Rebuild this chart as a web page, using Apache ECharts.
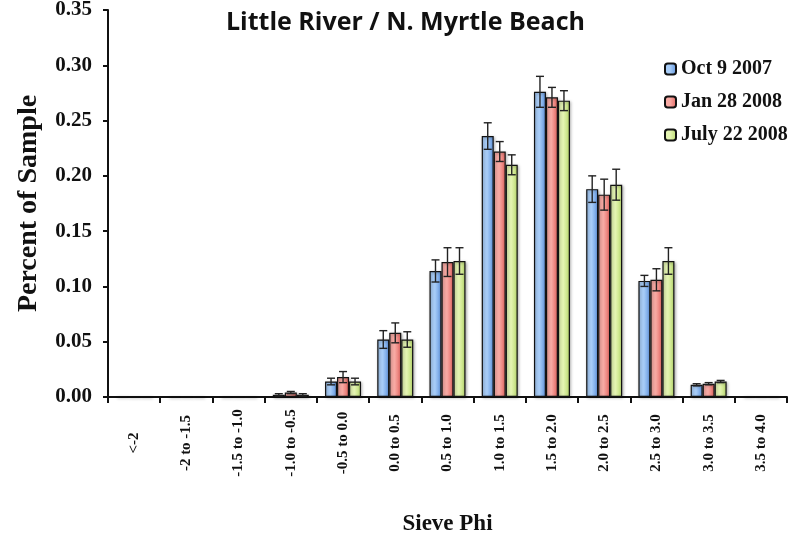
<!DOCTYPE html>
<html><head><meta charset="utf-8">
<script src="https://cdn.jsdelivr.net/npm/echarts@6/dist/echarts.min.js"></script>
<style>html,body{margin:0;padding:0;background:#fff}#c{width:803px;height:535px}</style>
</head><body><div id="c"></div>
<script>
const categories = ["<-2","-2 to -1.5","-1.5 to -1.0","-1.0 to -0.5","-0.5 to 0.0","0.0 to 0.5","0.5 to 1.0","1.0 to 1.5","1.5 to 2.0","2.0 to 2.5","2.5 to 3.0","3.0 to 3.5","3.5 to 4.0"];
const seriesNames = ["Oct 9 2007","Jan 28 2008","July 22 2008"];
const oct2007 = [0.0005,0.0003,0.0003,0.002,0.014,0.052,0.114,0.236,0.276,0.188,0.105,0.011,0.0005];
const jan2008 = [0.0003,0.0003,0.0003,0.004,0.018,0.058,0.122,0.222,0.271,0.183,0.106,0.012,0.0003];
const jul2008 = [0.0003,0.0003,0.0003,0.002,0.014,0.052,0.123,0.210,0.268,0.192,0.123,0.014,0.0003];
const octErr = [0,0,0,0.001,0.003,0.008,0.010,0.012,0.014,0.012,0.005,0.001,0];
const janErr = [0,0,0,0.001,0.005,0.009,0.013,0.009,0.009,0.014,0.010,0.001,0];
const julErr = [0,0,0,0.001,0.003,0.007,0.012,0.009,0.009,0.014,0.012,0.001,0];
const yTicks = [0,0.05,0.10,0.15,0.20,0.25,0.30,0.35];

const values = [oct2007, jan2008, jul2008];
const errs = [octErr, janErr, julErr];
const grads = [["#a8cdf8","#5e93dd"],["#f8aaa4","#e2635e"],["#e4f4b2","#b8d96c"]];
const BW = 12;
const offsets = [-BW, 0, BW];
const serif = "'Liberation Serif','Times New Roman',serif";

function grad(c){return new echarts.graphic.LinearGradient(0,0,1,0,[{offset:0,color:c[0]},{offset:0.45,color:c[0]},{offset:1,color:c[1]}]);}

const series = [];
values.forEach((vals,i)=>{
  series.push({
    name: seriesNames[i], type:'bar', data: vals, barWidth: BW, barGap:'0%', barCategoryGap:'30%',
    itemStyle:{color:grad(grads[i]), borderColor:'#111', borderWidth:1.2, shadowColor:'rgba(0,0,0,0.35)', shadowBlur:3, shadowOffsetX:1, shadowOffsetY:1},
    emphasis:{disabled:true}
  });
});
values.forEach((vals,i)=>{
  series.push({
    type:'custom', z:10, silent:true,
    data: vals.map((v,k)=>[k, v, errs[i][k]]),
    encode:{x:0,y:1},
    renderItem:(params, api)=>{
      const k=api.value(0), v=api.value(1), e=api.value(2);
      if(!e) return null;
      const hi=api.coord([k, v+e]), lo=api.coord([k, v-e]);
      const cx=hi[0]+offsets[i];
      const st={stroke:'#222', lineWidth:1.4};
      return {type:'group', children:[
        {type:'line', shape:{x1:cx,y1:hi[1],x2:cx,y2:lo[1]}, style:st},
        {type:'line', shape:{x1:cx-4,y1:hi[1],x2:cx+4,y2:hi[1]}, style:st},
        {type:'line', shape:{x1:cx-4,y1:lo[1],x2:cx+4,y2:lo[1]}, style:st}
      ]};
    }
  });
});

const chart = echarts.init(document.getElementById('c'));
chart.setOption({
  animation:false,
  backgroundColor:'#fff',
  title:{text:'Little River / N. Myrtle Beach', left:221, top:5,
    textStyle:{fontFamily:"'Open Sans','Noto Sans',sans-serif", fontWeight:'bold', fontSize:25, color:'#111'}},
  legend:{data:seriesNames, orient:'vertical', left:659, top:54, itemWidth:11, itemHeight:11, itemGap:13,
    textStyle:{fontFamily:serif, fontWeight:'bold', fontSize:20, color:'#111', lineHeight:20}},
  grid:{left:108, right:16, top:10, bottom:138, containLabel:false, outerBoundsMode:'none'},
  xAxis:{type:'category', data:categories,
    name:'Sieve Phi', nameLocation:'middle', nameGap:116,
    nameTextStyle:{fontFamily:serif, fontWeight:'bold', fontSize:23, color:'#111'},
    axisLine:{lineStyle:{color:'#111', width:2}},
    axisTick:{show:true, length:6, lineStyle:{color:'#111', width:2}},
    axisLabel:{rotate:90, align:'center', verticalAlign:'middle', margin:46, interval:0,
      fontFamily:serif, fontWeight:'bold', fontSize:15, color:'#111'}},
  yAxis:{type:'value', min:0, max:0.35, interval:0.05,
    name:'Percent of Sample', nameLocation:'middle', nameGap:65, nameRotate:90,
    nameTextStyle:{fontFamily:serif, fontWeight:'bold', fontSize:28, color:'#111'},
    axisLine:{show:true, lineStyle:{color:'#111', width:2}},
    axisTick:{show:true, length:5, lineStyle:{color:'#111', width:2}},
    splitLine:{show:false},
    axisLabel:{margin:16, fontFamily:serif, fontWeight:'bold', fontSize:21, color:'#111',
      formatter:(v)=>yTicks.find(t=>Math.abs(t-v)<1e-9)!==undefined ? v.toFixed(2) : ''}},
  series: series
});
</script></body></html>
